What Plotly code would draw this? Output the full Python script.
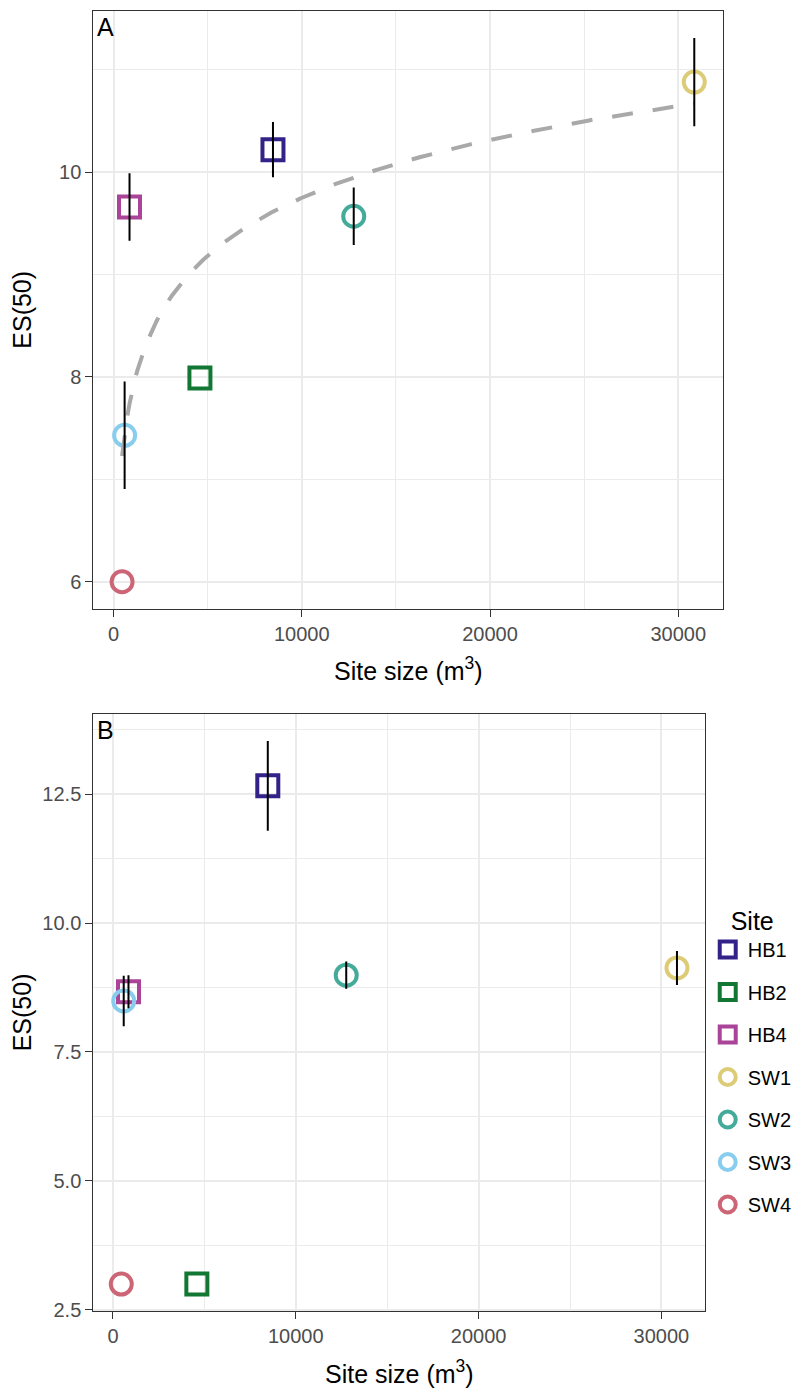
import numpy as np
import plotly.graph_objects as go

# ---------------- data ----------------
sites = ["HB1", "HB2", "HB4", "SW1", "SW2", "SW3", "SW4"]
site_colors = ["#332288", "#117733", "#AA4499", "#DDCC77", "#44AA99", "#88CCEE", "#CC6677"]
site_symbols = ["square-open", "square-open", "square-open",
                "circle-open", "circle-open", "circle-open", "circle-open"]
site_size_m3 = [8470, 4590, 850, 30850, 12760, 590, 455]

es50_a = [10.22, 7.99, 9.66, 10.88, 9.57, 7.43, 6.00]
se_a = [0.27, 0.0, 0.33, 0.43, 0.28, 0.525, 0.0]

es50_b = [12.66, 3.00, 8.67, 9.13, 8.99, 8.49, 3.00]
se_b = [0.87, 0.0, 0.32, 0.33, 0.265, 0.49, 0.0]

x_ticks = [0, 10000, 20000, 30000]
y_ticks_a = [6, 8, 10]
y_ticks_b = [2.5, 5.0, 7.5, 10.0, 12.5]
y_ticklabels_b = ["2.5", "5.0", "7.5", "10.0", "12.5"]

# ---------------- layout geometry (px) ----------------
W, H = 797, 1394
FONT = "Liberation Sans, Arial, sans-serif"
A_box = dict(l=94.3, r=729.3, t=11.0, b=613.3)
B_box = dict(l=94.3, r=711.0, t=719.0, b=1320.7)


def px_x(v):
    return v / W


def px_y(v):
    return 1 - v / H


def expand(lo, hi, f=0.05):
    d = hi - lo
    return [lo - f * d, hi + f * d]


def minor_of(ticks):
    step = ticks[1] - ticks[0]
    return [t + step / 2 for t in [ticks[0] - step] + list(ticks)]


x = np.array(site_size_m3, dtype=float)
ya, ea = np.array(es50_a), np.array(se_a)
yb, eb = np.array(es50_b), np.array(se_b)

x_range = expand(x.min(), x.max())
ya_range = expand(min((ya - ea).min(), ya.min()), max((ya + ea).max(), ya.max()))
yb_range = expand(min((yb - eb).min(), yb.min()), max((yb + eb).max(), yb.max()))

# log fit for panel A
b1, b0 = np.polyfit(np.log(x), ya, 1)
xfit = np.linspace(x.min(), x.max(), 300)
yfit = b0 + b1 * np.log(xfit)

fig = go.Figure()

# points
for panel, (yv, xa, ya_name, show) in enumerate([(ya, "x", "y", False), (yb, "x2", "y2", True)]):
    for i, s in enumerate(sites):
        fig.add_trace(go.Scatter(
            x=[x[i]], y=[yv[i]], mode="markers", name=s,
            legendgroup=s, showlegend=show,
            marker=dict(symbol=site_symbols[i], size=21, color=site_colors[i],
                        line=dict(width=4, color=site_colors[i])),
            xaxis=xa, yaxis=ya_name, hoverinfo="skip",
        ))
    if panel == 0:
        fig.add_trace(go.Scatter(
            x=xfit, y=yfit, mode="lines", showlegend=False,
            line=dict(color="#A9A9A9", width=4, dash="21px,20px"),
            xaxis="x", yaxis="y", hoverinfo="skip",
        ))

# error bars (drawn on top)
for yv, ev, xa, yname in [(ya, ea, "x", "y"), (yb, eb, "x2", "y2")]:
    m = ev > 0
    fig.add_trace(go.Scatter(
        x=x[m], y=yv[m], mode="markers", showlegend=False,
        marker=dict(size=1, opacity=0),
        error_y=dict(type="data", array=ev[m], color="black", thickness=2, width=0),
        xaxis=xa, yaxis=yname, hoverinfo="skip",
    ))

axis_common = dict(
    showline=True, linecolor="#333333", linewidth=1.4, mirror=True,
    ticks="outside", ticklen=7, tickwidth=1.4, tickcolor="#333333",
    tickfont=dict(family=FONT, size=20, color="#4D4D4D"),
    showgrid=True, gridcolor="#EBEBEB", gridwidth=2, zeroline=False,
)

fig.update_layout(
    width=W, height=H, margin=dict(l=0, r=0, t=0, b=0),
    paper_bgcolor="white", plot_bgcolor="white",
    font=dict(family=FONT, color="black"),
    xaxis=dict(axis_common, domain=[px_x(A_box["l"]), px_x(A_box["r"])], anchor="y",
               range=x_range, tickmode="array", tickvals=x_ticks,
               ticktext=[str(t) for t in x_ticks],
               minor=dict(tickmode="array", tickvals=minor_of(x_ticks), showgrid=True,
                          gridcolor="#EBEBEB", gridwidth=1, ticks="")),
    yaxis=dict(axis_common, domain=[px_y(A_box["b"]), px_y(A_box["t"])], anchor="x",
               range=ya_range, tickmode="array", tickvals=y_ticks_a,
               ticktext=[str(t) for t in y_ticks_a],
               minor=dict(tickmode="array", tickvals=minor_of(y_ticks_a), showgrid=True,
                          gridcolor="#EBEBEB", gridwidth=1, ticks="")),
    xaxis2=dict(axis_common, domain=[px_x(B_box["l"]), px_x(B_box["r"])], anchor="y2",
                range=x_range, tickmode="array", tickvals=x_ticks,
                ticktext=[str(t) for t in x_ticks],
                minor=dict(tickmode="array", tickvals=minor_of(x_ticks), showgrid=True,
                           gridcolor="#EBEBEB", gridwidth=1, ticks="")),
    yaxis2=dict(axis_common, domain=[px_y(B_box["b"]), px_y(B_box["t"])], anchor="x2",
                range=yb_range, tickmode="array", tickvals=y_ticks_b,
                ticktext=y_ticklabels_b,
                minor=dict(tickmode="array", tickvals=minor_of(y_ticks_b), showgrid=True,
                           gridcolor="#EBEBEB", gridwidth=1, ticks="")),
    legend=dict(
        x=px_x(714), xanchor="left", y=px_y(904), yanchor="top",
        font=dict(family=FONT, size=20, color="black"),
        title=dict(text="Site", font=dict(family=FONT, size=25, color="black"), side="top center"),
        tracegroupgap=13.5, bgcolor="rgba(0,0,0,0)", itemwidth=30,
    ),
    showlegend=True,
)

annotations = []
for box, lab in [(A_box, "A"), (B_box, "B")]:
    annotations.append(dict(
        text=lab, xref="paper", yref="paper", x=px_x(box["l"] + 2), y=px_y(box["t"]),
        xanchor="left", yanchor="top", showarrow=False,
        font=dict(family=FONT, size=25, color="black"),
    ))
    annotations.append(dict(
        text="Site size (m<sup>3</sup>)", xref="paper", yref="paper",
        x=px_x((box["l"] + box["r"]) / 2), y=px_y(box["b"] + 79), xanchor="center",
        yanchor="bottom", showarrow=False,
        font=dict(family=FONT, size=25, color="black"),
    ))
    annotations.append(dict(
        text="ES(50)", xref="paper", yref="paper", textangle=-90,
        x=px_x(22), y=px_y((box["t"] + box["b"]) / 2), xanchor="center", yanchor="middle",
        showarrow=False, font=dict(family=FONT, size=25, color="black"),
    ))
fig.update_layout(annotations=annotations)

fig.write_html("out.html")
